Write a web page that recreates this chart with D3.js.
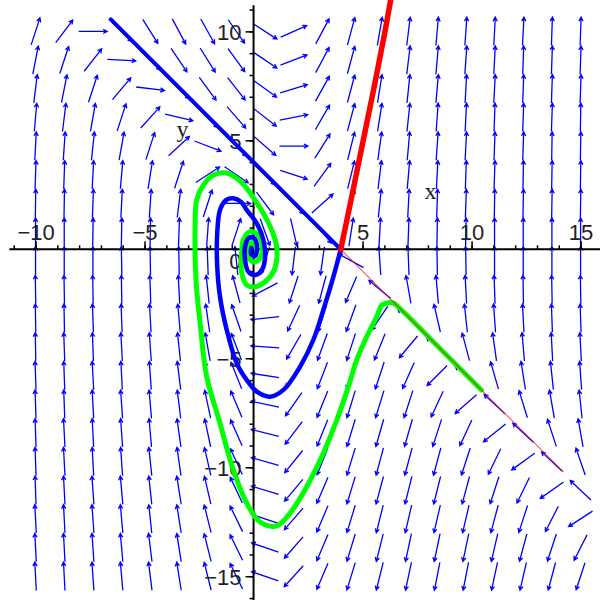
<!DOCTYPE html>
<meta charset="utf-8">
<script src="https://d3js.org/d3.v7.min.js"></script>
<style>
body{margin:0;background:#fff}
</style>
<body>
<script>
// direction field grid (x: -10..15, y: 10..-15, 20 points each)
var gridX=[-10,-8.684,-7.368,-6.053,-4.737,-3.421,-2.105,-0.789,0.526,1.842,3.158,4.474,5.789,7.105,8.421,9.737,11.053,12.368,13.684,15];
var gridY=[10,8.684,7.368,6.053,4.737,3.421,2.105,0.789,-0.526,-1.842,-3.158,-4.474,-5.789,-7.105,-8.421,-9.737,-11.053,-12.368,-13.684,-15];
// arrow direction in degrees, one row per gridY value
var angles=[
[72,53,0,-44,-58,-62,-61,-55,-33,24,62,75,80,83,85,86,87,87,88,88],
[79,72,52,-3,-44,-56,-58,-54,-34,21,62,75,81,83,85,86,87,88,88,88],
[83,79,72,50,-7,-44,-54,-52,-36,17,61,75,81,84,85,87,87,88,88,88],
[85,83,80,72,48,-13,-45,-49,-38,11,60,75,81,84,86,87,88,88,88,89],
[87,86,84,80,72,43,-21,-45,-41,0,58,76,82,85,86,87,88,88,89,89],
[88,88,87,85,81,72,33,-34,-45,-18,54,76,83,85,87,88,88,89,89,89],
[89,89,88,87,86,83,72,0,-53,-46,42,77,84,87,88,88,89,89,89,89],
[90,90,89,89,89,88,86,72,-70,-77,-51,81,87,88,89,89,90,90,90,90],
[90,90,90,91,91,91,92,96,252,263,262,151,94,92,91,91,90,90,90,90],
[91,91,91,91,92,93,96,105,208,252,255,247,140,100,95,93,92,91,91,91],
[91,91,92,92,93,95,98,109,186,245,252,250,236,139,103,96,94,93,92,92],
[91,92,92,93,94,96,100,111,176,240,250,252,248,230,138,105,98,95,93,93],
[92,92,93,93,94,97,101,112,171,237,249,252,252,246,225,138,106,99,96,94],
[92,92,93,94,95,97,102,113,168,235,248,253,253,252,245,221,137,107,100,96],
[92,93,93,94,95,98,102,114,166,233,248,253,254,254,252,245,219,137,108,100],
[92,93,93,94,96,98,103,115,164,231,248,253,255,255,255,252,244,216,137,109],
[92,93,94,95,96,99,103,115,163,230,247,253,255,256,256,255,252,244,215,137],
[93,93,94,95,96,99,104,116,162,229,247,253,256,257,257,257,255,252,243,213],
[93,93,94,95,97,99,104,116,161,229,247,253,256,258,258,258,257,255,252,243],
[93,93,94,95,97,99,104,116,161,228,247,253,256,258,259,259,258,257,255,252]
];
var xTicks=[-10,-5,5,10,15];
var yTicks=[-15,-10,-5,0,5,10];

var blueLine=[[-6.55,10.55],[4,0]];
var redLine=[[-6.55,10.55],[14.2,-10.2]];
var redCurve=[[4,0],[4.5,2.4],[5,4.85],[5.5,7.3],[6,9.85],[6.3,11.5],[6.4,12]];
var blueCurve=[[4,0],[3.66,-1.26],[3.2,-2.78],[2.74,-4.16],[2.13,-5.39],[1.37,-6.45],[0.76,-6.76],
 [0.15,-6.53],[-0.31,-6.0],[-0.77,-5.23],[-1.23,-3.7],[-1.54,-2.17],[-1.67,-0.72],[-1.67,0.66],
 [-1.54,1.8],[-1.26,2.26],[-0.93,2.34],[-0.57,2.17],[-0.31,1.8],[0.15,1.19],[0.45,0.43],[0.53,-0.34],
 [0.38,-0.95],[0.07,-1.18],[-0.24,-1.03],[-0.39,-0.49],[-0.39,0.12],[-0.21,0.52],[0.02,0.52],
 [0.16,0.11],[0.07,-0.31],[-0.11,-0.22],[-0.11,0.06]];
var greenCurve=[[10.45,-6.45],[8.55,-4.55],[6.72,-2.72],[6.4,-2.46],[6.18,-2.45],[5.89,-2.56],[5.65,-3.09],
 [5.19,-4.01],[4.73,-5.08],[4.35,-6.3],[3.82,-7.83],[3.2,-9.36],[2.44,-10.89],[1.67,-12.11],[1.06,-12.69],
 [0.3,-12.51],[-0.31,-11.65],[-0.93,-10.12],[-1.54,-7.98],[-2.15,-5.84],[-2.45,-3.39],[-2.64,-1.41],
 [-2.68,1.04],[-2.61,2.26],[-2.3,2.95],[-1.84,3.41],[-1.31,3.51],[-0.77,3.26],[-0.31,2.8],[0.07,2.26],
 [0.45,1.65],[0.83,0.89],[1.06,0.12],[1.06,-0.49],[0.91,-1.03],[0.53,-1.49],[0.07,-1.72],[-0.31,-1.64],
 [-0.54,-1.1],[-0.55,-0.26],[-0.47,0.43],[-0.16,0.81],[0.21,0.66],[0.38,0.2],[0.3,-0.4],[-0.02,-0.58],
 [-0.28,-0.26],[-0.23,0.15],[0.0,0.33],[0.11,0.06]];

var W=600,H=600;
var svg=d3.select("body").append("svg").attr("width",W).attr("height",H);
var x=d3.scaleLinear().domain([-11.63,15.89]).range([0,W]);
var y=d3.scaleLinear().domain([11.44,-16.09]).range([0,H]);

svg.append("clipPath").attr("id","clip").append("rect").attr("width",W).attr("height",H);

// direction field
var half=14.2, head=4.5, ha=28*Math.PI/180;
var arrows=svg.append("g").attr("stroke","#0000ff").attr("stroke-width",1.3).attr("fill","none");
gridY.forEach(function(yv,j){
  gridX.forEach(function(xv,i){
    var t=angles[j][i]*Math.PI/180;
    var cx=x(xv),cy=y(yv);
    var ux=Math.cos(t),uy=-Math.sin(t);
    var x1=cx-ux*half,y1=cy-uy*half,x2=cx+ux*half,y2=cy+uy*half;
    var b1x=x2-head*(ux*Math.cos(ha)-uy*Math.sin(ha)),b1y=y2-head*(ux*Math.sin(ha)+uy*Math.cos(ha));
    var b2x=x2-head*(ux*Math.cos(-ha)-uy*Math.sin(-ha)),b2y=y2-head*(ux*Math.sin(-ha)+uy*Math.cos(-ha));
    arrows.append("path").attr("d","M"+x1+","+y1+"L"+x2+","+y2+"M"+b1x+","+b1y+"L"+x2+","+y2+"L"+b2x+","+b2y);
  });
});

// axes
var minorX=d3.range(-11,16), minorY=d3.range(-16,12);
var gx=svg.append("g").attr("transform","translate(0,"+y(0)+")");
gx.call(d3.axisTop(x).tickValues(minorX).tickSize(4).tickSizeOuter(0).tickFormat(""));
gx.select(".domain").remove();
var gx2=svg.append("g").attr("transform","translate(0,"+y(0)+")");
gx2.call(d3.axisTop(x).tickValues(xTicks).tickSize(8).tickPadding(1).tickSizeOuter(0));
gx2.select(".domain").remove();
gx2.selectAll("text").attr("font-family","Liberation Sans, Arial, sans-serif").attr("font-size",22).attr("fill","#222");

var gy=svg.append("g").attr("transform","translate("+x(0)+",0)");
gy.call(d3.axisLeft(y).tickValues(minorY).tickSize(4).tickSizeOuter(0).tickFormat(""));
gy.select(".domain").remove();
var gy2=svg.append("g").attr("transform","translate("+x(0)+",0)");
gy2.call(d3.axisLeft(y).tickValues(yTicks).tickSize(8).tickPadding(4).tickSizeOuter(0));
gy2.select(".domain").remove();
gy2.selectAll("text").attr("font-family","Liberation Sans, Arial, sans-serif").attr("font-size",22).attr("fill","#222")
  .attr("dy",function(d){return d===0?"0.85em":"0.36em";});
svg.selectAll(".tick line").attr("stroke","#000").attr("stroke-width",1.5);

svg.append("line").attr("x1",x(-11.2)).attr("x2",W).attr("y1",y(0)).attr("y2",y(0)).attr("stroke","#000").attr("stroke-width",2);
svg.append("line").attr("x1",x(0)).attr("x2",x(0)).attr("y1",y(11.2)).attr("y2",H).attr("stroke","#000").attr("stroke-width",2);

// trajectories
var line=d3.line().x(function(d){return x(d[0]);}).y(function(d){return y(d[1]);}).curve(d3.curveCatmullRom.alpha(0.5));
var curves=svg.append("g").attr("clip-path","url(#clip)").attr("fill","none").attr("stroke-linejoin","round").attr("stroke-linecap","round");
curves.append("path").attr("d",line(greenCurve)).attr("stroke","#00ff00").attr("stroke-width",5);
curves.append("path").attr("d",d3.line().x(function(d){return x(d[0]);}).y(function(d){return y(d[1]);})(redLine)).attr("stroke","#ff0000").attr("stroke-width",1);
curves.append("path").attr("d",d3.line().x(function(d){return x(d[0]);}).y(function(d){return y(d[1]);})(blueLine)).attr("stroke","#0000ff").attr("stroke-width",4);
curves.append("path").attr("d",line(blueCurve)).attr("stroke","#0000ff").attr("stroke-width",4.5);
curves.append("path").attr("d",line(redCurve)).attr("stroke","#ff0000").attr("stroke-width",5.5);

// axis names
svg.append("text").attr("x",x(8.12)).attr("y",y(2.3)).attr("text-anchor","middle")
  .attr("font-family","Liberation Serif, Times New Roman, serif").attr("font-size",24).attr("fill","#222").text("x");
svg.append("text").attr("x",x(-3.26)).attr("y",y(5.15)).attr("text-anchor","middle")
  .attr("font-family","Liberation Serif, Times New Roman, serif").attr("font-size",24).attr("fill","#222").text("y");
</script>
</body>
</html>
